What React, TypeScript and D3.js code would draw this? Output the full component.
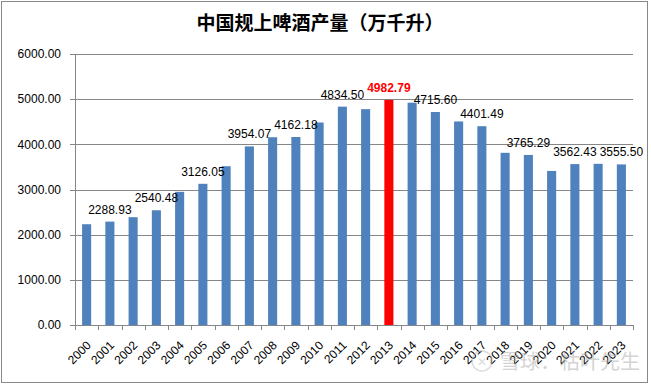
import React from 'react';
import * as d3 from 'd3';

// 中国规上啤酒产量（万千升）
const years = ['2000','2001','2002','2003','2004','2005','2006','2007','2008','2009','2010','2011',
  '2012','2013','2014','2015','2016','2017','2018','2019','2020','2021','2022','2023'];
const output = [2231.3, 2288.93, 2386.8, 2540.48, 2948.6, 3126.05, 3515.2, 3954.07, 4156.9, 4162.18, 4483.0, 4834.50,
  4778.6, 4982.79, 4921.9, 4715.60, 4506.4, 4401.49, 3812.2, 3765.29, 3411.1, 3562.43, 3568.7, 3555.50];
const yTicks = [0, 1000, 2000, 3000, 4000, 5000, 6000];
const highlightYear = '2013';

const W = 651, H = 385;
const left = 75, right = 633, top = 54, bottom = 325;
const font = '"Liberation Sans", Arial, sans-serif';

const App = () => {
  const x = d3.scaleBand().domain(years).range([left, right]).paddingInner(0.61).paddingOuter(0.305);
  const y = d3.scaleLinear().domain([0, 6000]).range([bottom, top]);
  const band = d3.scaleBand().domain(years).range([left, right]);

  return (
    <svg width={W} height={H} style={{ position: 'absolute', left: 0, top: 0 }}>
      <rect x={1.5} y={1.5} width={646} height={381} fill="#fff" stroke="#888" />
      <text x={320} y={30} textAnchor="middle" fontSize={19} fontWeight="bold"
        fontFamily='"Noto Sans CJK SC", sans-serif' fill="#000">中国规上啤酒产量（万千升）</text>

      {yTicks.map(t => (
        <g key={t}>
          {t > 0 && <line x1={left} x2={right} y1={Math.round(y(t)) + 0.5} y2={Math.round(y(t)) + 0.5} stroke="#868686" />}
          <line x1={left - 5} x2={left} y1={Math.round(y(t)) + 0.5} y2={Math.round(y(t)) + 0.5} stroke="#868686" />
          <text x={61} y={y(t)} dy="0.35em" textAnchor="end" fontSize={12} fontFamily={font} fill="#000">
            {d3.format('.2f')(t)}
          </text>
        </g>
      ))}

      {years.map((yr, i) => (
        <rect key={yr} x={x(yr)} y={y(output[i])} width={x.bandwidth()} height={bottom - y(output[i])}
          fill={yr === highlightYear ? '#FF0000' : '#4F81BD'} />
      ))}

      <line x1={left + 0.5} x2={left + 0.5} y1={top} y2={bottom} stroke="#868686" />
      <line x1={left} x2={right} y1={bottom + 0.5} y2={bottom + 0.5} stroke="#868686" />
      {[...years.map(yr => band(yr) as number), right].map((bx, i) => (
        <line key={i} x1={Math.round(bx) + 0.5} x2={Math.round(bx) + 0.5} y1={bottom} y2={bottom + 5} stroke="#868686" />
      ))}

      {years.map((yr) => {
        const cx = (band(yr) as number) + band.bandwidth() / 2;
        return (
          <text key={yr} transform={`translate(${cx + 5},${346}) rotate(-45)`} textAnchor="end"
            fontSize={12} fontFamily={font} fill="#000">{yr}</text>
        );
      })}

      {years.map((yr, i) => {
        const hl = yr === highlightYear;
        if (i % 2 === 0 && !hl) return null;
        const cx = (x(yr) as number) + x.bandwidth() / 2;
        return (
          <text key={yr} x={cx} y={y(output[i]) - 8} textAnchor="middle" fontSize={12}
            fontFamily={font} fontWeight={hl ? 'bold' : 'normal'} fill={hl ? '#FF0000' : '#000'}>
            {d3.format('.2f')(output[i])}
          </text>
        );
      })}

      <g opacity={0.5}>
        <circle cx={482} cy={361} r={10} fill="none" stroke="#bbb" strokeWidth={1.5} />
        <text x={482} y={366} textAnchor="middle" fontSize={12} fill="#bbb" fontFamily={font}>✕</text>
        <text x={500} y={369} fontSize={20} fontFamily='"Noto Sans CJK SC", sans-serif' fill="#aaa">雪球：枯叶先生</text>
      </g>
    </svg>
  );
};

export default App;
